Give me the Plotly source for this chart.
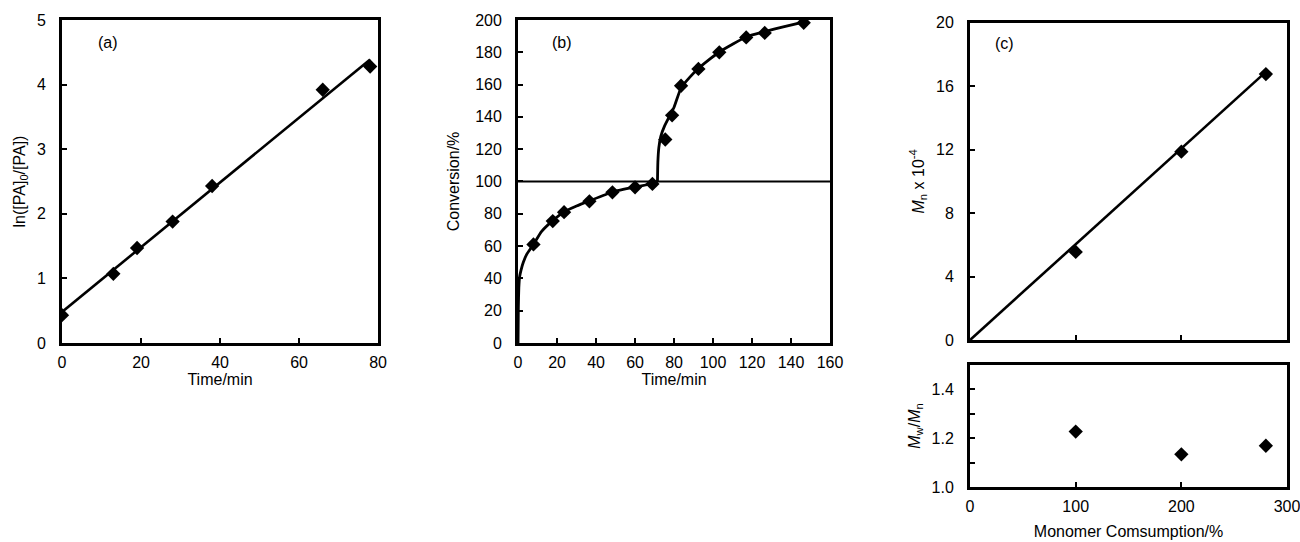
import plotly.graph_objects as go

# ---------------- data ----------------
# (a) kinetic plot
a_time = [0, 13, 19, 28, 38, 66, 78]
a_lnratio = [0.43, 1.07, 1.47, 1.88, 2.43, 3.92, 4.28]
a_fit_time = [0, 78]
a_fit_val = [0.48, 4.39]

# (b) conversion vs time
b_time = [7.9, 17.8, 23.6, 36.6, 48.4, 60, 68.9, 75.5, 79, 83.6, 92.5, 103.2, 117, 126.5, 146.5]
b_conv = [61, 75.5, 81, 87.7, 93.3, 96.4, 98.5, 126, 141, 159.3, 169.7, 180, 189.2, 192, 198.3]
b_curve1_time = [0, 0.15, 0.4, 0.8, 1.5, 2.7, 4.5, 7.9, 12, 17.8, 23.6, 30, 36.6, 48.4, 60, 68.9, 71.5]
b_curve1_conv = [0, 22, 34, 41, 45, 50, 55, 61, 69, 75.8, 81.2, 84.8, 88, 93.5, 96.6, 98.6, 100]
b_curve2_time = [71.5, 71.7, 72.2, 73.2, 75, 77.5, 80, 83.6, 88, 92.5, 97.5, 103.2, 110, 117, 126.5, 136, 148]
b_curve2_conv = [100, 112, 121, 128, 134, 140, 146, 158, 164.5, 170, 175, 180.2, 185, 189.5, 192.8, 195.8, 199.2]
b_ref_time = [0, 160]
b_ref_conv = [100, 100]

# (c) Mn vs monomer consumption
c_cons = [100, 200, 280]
c_mn = [5.55, 11.87, 16.76]
c_fit_cons = [0, 280]
c_fit_mn = [0, 16.9]
c_pdi = [1.227, 1.134, 1.169]

FONT = "Liberation Sans, Arial, sans-serif"
BLACK = "#000000"

fig = go.Figure()

mk = dict(symbol="diamond", size=11, color=BLACK)

# (a)
fig.add_trace(go.Scatter(x=a_fit_time, y=a_fit_val, mode="lines",
                         line=dict(color=BLACK, width=2.6), xaxis="x", yaxis="y"))
fig.add_trace(go.Scatter(x=a_time, y=a_lnratio, mode="markers",
                         marker=mk, xaxis="x", yaxis="y"))
# (b)
fig.add_trace(go.Scatter(x=b_ref_time, y=b_ref_conv, mode="lines",
                         line=dict(color=BLACK, width=2), xaxis="x2", yaxis="y2"))
fig.add_trace(go.Scatter(x=b_curve1_time, y=b_curve1_conv, mode="lines",
                         line=dict(color=BLACK, width=2.8, shape="spline", smoothing=0.5),
                         xaxis="x2", yaxis="y2"))
fig.add_trace(go.Scatter(x=b_curve2_time, y=b_curve2_conv, mode="lines",
                         line=dict(color=BLACK, width=2.8, shape="spline", smoothing=0.5),
                         xaxis="x2", yaxis="y2"))
fig.add_trace(go.Scatter(x=b_time, y=b_conv, mode="markers",
                         marker=mk, xaxis="x2", yaxis="y2"))
# (c) top
fig.add_trace(go.Scatter(x=c_fit_cons, y=c_fit_mn, mode="lines",
                         line=dict(color=BLACK, width=2.6), xaxis="x3", yaxis="y3"))
fig.add_trace(go.Scatter(x=c_cons, y=c_mn, mode="markers",
                         marker=mk, xaxis="x3", yaxis="y3"))
# (c) bottom
fig.add_trace(go.Scatter(x=c_cons, y=c_pdi, mode="markers",
                         marker=mk, xaxis="x4", yaxis="y4"))

axis_common = dict(showline=True, linewidth=3, linecolor=BLACK, mirror=True,
                   ticks="inside", ticklen=5, tickwidth=1.5, tickcolor=BLACK,
                   showgrid=False, zeroline=False, automargin=False,
                   ticklabeloverflow="allow",
                   tickfont=dict(family=FONT, size=16, color=BLACK))
xax = dict(axis_common, ticklabelstandoff=3)
yax = dict(axis_common, ticklabelstandoff=10)

def ttl(text, standoff):
    return dict(text=text, font=dict(family=FONT, size=16, color=BLACK), standoff=standoff)

fig.update_layout(
    width=1300, height=542,
    margin=dict(l=0, r=0, t=0, b=0),
    paper_bgcolor="white", plot_bgcolor="white",
    showlegend=False,
    font=dict(family=FONT, size=16, color=BLACK),
    xaxis=dict(xax, domain=[0.0477, 0.2908], range=[0, 80], dtick=20,
               title=ttl("Time/min", 2), anchor="y"),
    yaxis=dict(yax, domain=[0.3672, 0.9631], range=[0, 5], dtick=1,
               title=ttl("ln([PA]<sub>0</sub>/[PA])", 8), anchor="x"),
    xaxis2=dict(xax, domain=[0.3985, 0.6385], range=[0, 160], dtick=20,
                title=ttl("Time/min", 2), anchor="y2"),
    yaxis2=dict(yax, domain=[0.3672, 0.9631], range=[0, 200], dtick=20,
                title=ttl("Conversion/%", 12), anchor="x2"),
    xaxis3=dict(xax, domain=[0.7462, 0.99], range=[0, 300], dtick=100,
                showticklabels=False, anchor="y3"),
    yaxis3=dict(yax, domain=[0.3727, 0.9581], range=[0, 20], dtick=4,
                title=ttl("<i>M</i><sub>n</sub> x 10<sup>-4</sup>", 8), anchor="x3"),
    xaxis4=dict(xax, domain=[0.7462, 0.99], range=[0, 300], dtick=100,
                title=ttl("Monomer Comsumption/%", 12), anchor="y4"),
    yaxis4=dict(yax, domain=[0.1015, 0.3266], range=[1.0, 1.5],
                tick0=1.0, dtick=0.2, tickformat=".1f",
                minor=dict(dtick=0.1, ticks="inside", ticklen=5, tickwidth=1.5,
                           tickcolor=BLACK, showgrid=False),
                title=ttl("<i>M</i><sub>w</sub>/<i>M</i><sub>n</sub>", 8), anchor="x4"),
)

for ref, label, xd, yd in [("", "(a)", 0.145, 0.929), ("2", "(b)", 0.14, 0.929), ("3", "(c)", 0.11, 0.935)]:
    fig.add_annotation(xref=f"x{ref} domain", yref=f"y{ref} domain", x=xd, y=yd,
                       xanchor="center", yanchor="middle",
                       text=label, showarrow=False,
                       font=dict(family=FONT, size=16, color=BLACK))

fig.write_html("out.html", config={"displayModeBar": False},
               post_script="document.body.style.margin='0';document.body.style.overflow='hidden';")
